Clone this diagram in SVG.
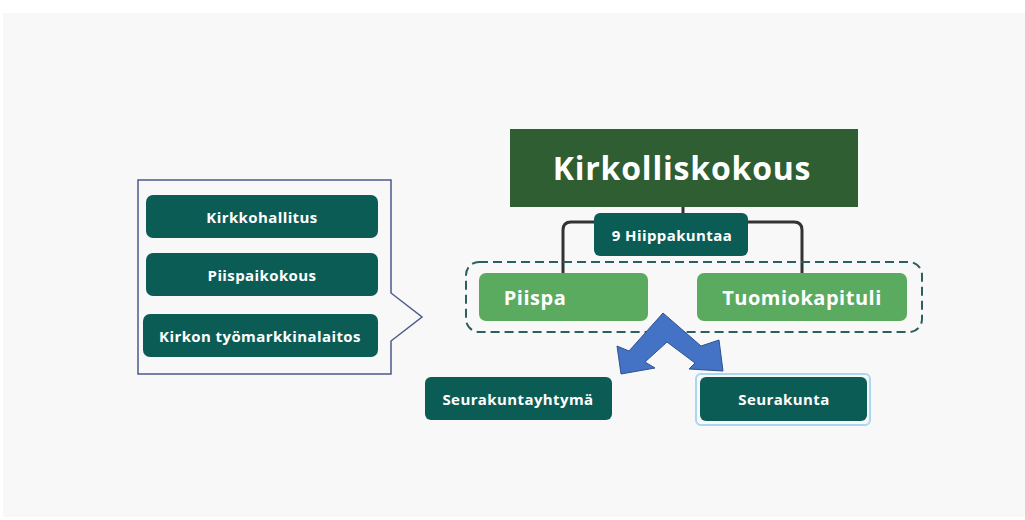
<svg xmlns="http://www.w3.org/2000/svg" width="1025" height="520" viewBox="0 0 1025 520">
<style>
.t{font-family:"Open Sans","Liberation Sans",sans-serif;font-weight:700;fill:#ffffff;text-anchor:middle;dominant-baseline:central}
.s{font-size:15px;letter-spacing:0.4px}
.teal{fill:#0c5c56}
.lg{fill:#5aab5f}
</style>
<rect x="0" y="0" width="1025" height="520" fill="#ffffff"/>
<rect x="3" y="13" width="1022" height="504" fill="#f8f8f8"/>
<g id="callout">
<path d="M138,180 H391 V293 L422,317 L391,341 V374 H138 Z" fill="none" stroke="#4b5a8c" stroke-width="1.5"/>
</g>
<g id="kirkkohallitus"><rect class="teal" x="146" y="195" width="232" height="43" rx="7"/><text class="t s" x="262" y="216.5">Kirkkohallitus</text></g>
<g id="piispaikokous"><rect class="teal" x="146" y="253" width="232" height="43" rx="7"/><text class="t s" x="262" y="274.5">Piispaikokous</text></g>
<g id="tyomarkkinalaitos"><rect class="teal" x="143" y="314" width="235" height="43" rx="7"/><text class="t s" x="260" y="335.5">Kirkon työmarkkinalaitos</text></g>
<g id="connectors">
<path d="M683,207 V214" fill="none" stroke="#333333" stroke-width="3"/>
<path d="M563,273 V230 Q563,222 571,222 H594 M748,222 H794 Q802,222 802,230 V273" fill="none" stroke="#333333" stroke-width="3"/>
<rect x="466" y="262" width="456" height="70" rx="13" fill="none" stroke="#2c5f5f" stroke-width="2" stroke-dasharray="9,5"/>
<path d="M663,313 L701,346 L719,340 L723,371 L689,369 L695,363 L667,342 L645,362 L655,368 L621,374 L617,346 L629,351 Z" fill="#4472c4" stroke="#2f528f" stroke-width="1"/>
</g>
<g id="kirkolliskokous"><rect x="510" y="129" width="348" height="78" fill="#2e5e31"/><text class="t" x="682" y="167" font-size="32" letter-spacing="0.8">Kirkolliskokous</text></g>
<g id="hiippakuntaa"><rect class="teal" x="594" y="213" width="154" height="43" rx="6"/><text class="t s" x="672" y="234.5">9 Hiippakuntaa</text></g>
<g id="piispa"><rect class="lg" x="479" y="273" width="169" height="48" rx="7"/><text class="t" x="535" y="297" font-size="20" letter-spacing="0.5">Piispa</text></g>
<g id="tuomiokapituli"><rect class="lg" x="697" y="273" width="210" height="48" rx="7"/><text class="t" x="802" y="297" font-size="20" letter-spacing="0.5">Tuomiokapituli</text></g>
<g id="seurakuntayhtyma"><rect class="teal" x="425" y="377" width="187" height="43" rx="6"/><text class="t s" x="518" y="398.5">Seurakuntayhtymä</text></g>
<g id="seurakunta"><rect x="696" y="374" width="174" height="51" rx="5" fill="none" stroke="#a9d7ef" stroke-width="2"/><rect class="teal" x="700" y="377" width="167" height="44" rx="6"/><text class="t s" x="784" y="399">Seurakunta</text></g>
</svg>
